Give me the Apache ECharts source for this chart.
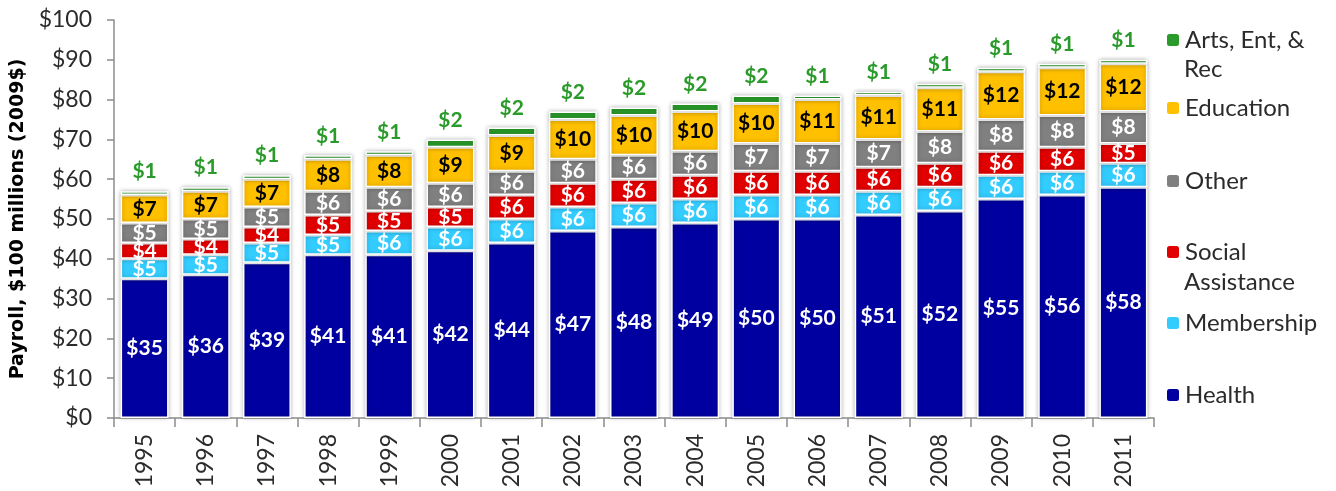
<!DOCTYPE html>
<html>
<head>
<meta charset="utf-8">
<script src="https://cdn.jsdelivr.net/npm/echarts@6/dist/echarts.min.js"></script>
<style>
  html, body { margin: 0; padding: 0; background: #fff; }
  #chart { width: 1336px; height: 491px; }
</style>
</head>
<body>
<div id="chart"></div>
<script>
// Payroll by subsector, $100 millions (2009$)
const years = ['1995','1996','1997','1998','1999','2000','2001','2002','2003','2004','2005','2006','2007','2008','2009','2010','2011'];
const health     = [35, 36, 39, 41, 41, 42, 44, 47, 48, 49, 50, 50, 51, 52, 55, 56, 58];
const membership = [5, 5, 5, 5, 6, 6, 6, 6, 6, 6, 6, 6, 6, 6, 6, 6, 6];
const social     = [4, 4, 4, 5, 5, 5, 6, 6, 6, 6, 6, 6, 6, 6, 6, 6, 5];
const other      = [5, 5, 5, 6, 6, 6, 6, 6, 6, 6, 7, 7, 7, 8, 8, 8, 8];
const education  = [7, 7, 7, 8, 8, 9, 9, 10, 10, 10, 10, 11, 11, 11, 12, 12, 12];
const arts       = [1, 1, 1, 1, 1, 2, 2, 2, 2, 2, 2, 1, 1, 1, 1, 1, 1];

const FONT = 'Lato, "Liberation Sans", sans-serif';
const TEXT = '#2b2b2b';

const barItem = (color) => ({
  color: color,
  borderColor: '#ffffff',
  borderWidth: 1.5,
  shadowBlur: 4,
  shadowColor: 'rgba(0,0,0,0.28)'
});

const inLabel = (color) => ({
  show: true,
  position: 'inside',
  formatter: (p) => '$' + p.value,
  color: color,
  fontFamily: FONT,
  fontWeight: 'bold',
  fontSize: 21
});

function makeSeries(name, data, color, labelColor, extra) {
  return Object.assign({
    name: name,
    type: 'bar',
    stack: 'total',
    data: data,
    barWidth: 48,
    itemStyle: barItem(color),
    label: inLabel(labelColor),
    emphasis: { disabled: true }
  }, extra || {});
}

const series = [
  makeSeries('Health', health, '#0000A0', '#ffffff'),
  makeSeries('Membership', membership, '#33CCFF', '#ffffff'),
  makeSeries('Social Assistance', social, '#E00000', '#ffffff'),
  makeSeries('Other', other, '#808080', '#ffffff'),
  makeSeries('Education', education, '#FFC000', '#000000'),
  makeSeries('Arts, Ent, & Rec', arts, '#2A9A2A', '#2A9A2A', {
    label: {
      show: true,
      position: 'top',
      distance: 9,
      formatter: (p) => '$' + p.value,
      color: '#2A9A2A',
      fontFamily: FONT,
      fontWeight: 'bold',
      fontSize: 21
    }
  })
];

// Legend entries on the right, each placed beside its band of the stack
const LEGEND_X = 1165;
const LEGEND_FS = 24;
const legendSpec = [
  { name: 'Arts, Ent, & Rec', text: 'Arts, Ent, &', y: 40 },
  { name: 'Education', text: 'Education', y: 108 },
  { name: 'Other', text: 'Other', y: 181 },
  { name: 'Social Assistance', text: 'Social', y: 252 },
  { name: 'Membership', text: 'Membership', y: 323 },
  { name: 'Health', text: 'Health', y: 395 }
];
const legends = legendSpec.map((l) => ({
  data: [l.name],
  left: LEGEND_X,
  top: l.y - 14,
  orient: 'vertical',
  itemWidth: 14,
  itemHeight: 14,
  itemGap: 7,
  padding: [0, 0, 0, 0],
  selectedMode: false,
  formatter: () => l.text,
  textStyle: { fontFamily: FONT, fontSize: LEGEND_FS, color: TEXT, lineHeight: 28 }
}));

const chart = echarts.init(document.getElementById('chart'), null, { renderer: 'canvas' });
chart.setOption({
  animation: false,
  backgroundColor: '#ffffff',
  grid: { left: 114, right: 182, top: 20, bottom: 73, containLabel: false },
  legend: legends,
  xAxis: {
    type: 'category',
    data: years,
    axisLine: { lineStyle: { color: '#8c8c8c', width: 1.5 } },
    axisTick: { show: true, length: 9, lineStyle: { color: '#8c8c8c', width: 1.5 } },
    axisLabel: {
      rotate: 90,
      margin: 16,
      color: TEXT,
      fontFamily: FONT,
      fontSize: 23
    }
  },
  yAxis: {
    type: 'value',
    min: 0,
    max: 100,
    interval: 10,
    name: 'Payroll, $100 millions (2009$)',
    nameLocation: 'middle',
    nameGap: 82,
    nameTextStyle: { fontFamily: '"DejaVu Sans", sans-serif', fontWeight: 'bold', fontSize: 19, color: '#000' },
    axisLine: { show: true, lineStyle: { color: '#8c8c8c', width: 1.5 } },
    axisTick: { show: true, length: 7, lineStyle: { color: '#8c8c8c', width: 1.5 } },
    splitLine: { show: false },
    axisLabel: {
      formatter: (v) => '$' + v,
      margin: 22,
      color: TEXT,
      fontFamily: FONT,
      fontSize: 23
    }
  },
  graphic: [
    { type: 'text', left: LEGEND_X + 19, top: 57, style: { text: 'Rec', fontFamily: FONT, fontSize: LEGEND_FS, fill: TEXT } },
    { type: 'text', left: LEGEND_X + 19, top: 270, style: { text: 'Assistance', fontFamily: FONT, fontSize: LEGEND_FS, fill: TEXT } }
  ],
  series: series
});
</script>
</body>
</html>
